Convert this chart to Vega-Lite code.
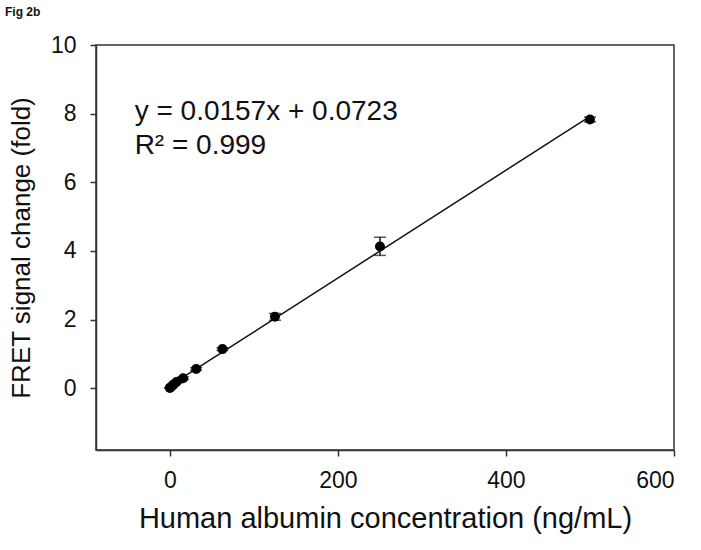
{
  "$schema": "https://vega.github.io/schema/vega-lite/v6.json",
  "autosize": "none",
  "width": 578,
  "height": 405,
  "padding": {"left": 96, "top": 45, "right": 27, "bottom": 100},
  "background": "white",
  "title": {"text": "Fig 2b", "anchor": "start", "frame": "group", "dx": -91, "dy": 14, "offset": 20, "baseline": "alphabetic", "fontSize": 12, "fontWeight": "bold", "font": "Liberation Sans", "color": "#111"},
  "config": {
    "view": {"stroke": "#333", "strokeWidth": 1.5},
    "font": "Liberation Sans"
  },
  "datasets": {
    "pts": [
      {"conc": 0, "fret": 0.01, "lo": 0.01, "hi": 0.01},
      {"conc": 1.95, "fret": 0.05, "lo": 0.03, "hi": 0.07},
      {"conc": 3.9, "fret": 0.1, "lo": 0.08, "hi": 0.12},
      {"conc": 7.8, "fret": 0.18, "lo": 0.15, "hi": 0.21},
      {"conc": 15.6, "fret": 0.29, "lo": 0.25, "hi": 0.33},
      {"conc": 31.25, "fret": 0.56, "lo": 0.52, "hi": 0.6},
      {"conc": 62.5, "fret": 1.14, "lo": 1.1, "hi": 1.18},
      {"conc": 125, "fret": 2.08, "lo": 1.98, "hi": 2.18},
      {"conc": 250, "fret": 4.13, "lo": 3.87, "hi": 4.4},
      {"conc": 500, "fret": 7.83, "lo": 7.76, "hi": 7.9}
    ],
    "fit": [
      {"conc": 0, "fret": 0.0723},
      {"conc": 500, "fret": 7.9223}
    ],
    "eq": [
      {"conc": -42, "fret": 8.05, "label": "y = 0.0157x + 0.0723"},
      {"conc": -42, "fret": 7.06, "label": "R² = 0.999"}
    ]
  },
  "layer": [
    {
      "data": {"name": "fit"},
      "mark": {"type": "line", "color": "#111", "strokeWidth": 1.5},
      "encoding": {
        "x": {"field": "conc", "type": "quantitative", "scale": {"domain": [-88, 600], "nice": false, "zero": false},
              "axis": {"values": [0, 200, 400, 600], "title": "Human albumin concentration (ng/mL)", "grid": false,
                       "domainColor": "#333", "domainWidth": 1.5, "tickColor": "#333", "tickWidth": 1.5, "tickSize": 6,
                       "labelFontSize": 23, "labelColor": "#111", "labelFont": "Liberation Sans", "labelPadding": 13,
                       "titleFontSize": 29, "titleFontWeight": "normal", "titleColor": "#111", "titleFont": "Liberation Sans", "titlePadding": 12}},
        "y": {"field": "fret", "type": "quantitative", "scale": {"domain": [-1.8, 10], "nice": false, "zero": false},
              "axis": {"values": [0, 2, 4, 6, 8, 10], "title": "FRET signal change (fold)", "grid": false,
                       "domainColor": "#333", "domainWidth": 1.5, "tickColor": "#333", "tickWidth": 1.5, "tickSize": 6,
                       "labelFontSize": 23, "labelColor": "#111", "labelFont": "Liberation Sans", "labelPadding": 14,
                       "titleFontSize": 26, "titleFontWeight": "normal", "titleColor": "#111", "titleFont": "Liberation Sans", "titlePadding": 16}}
      }
    },
    {
      "data": {"name": "pts"},
      "mark": {"type": "rule", "color": "#111", "strokeWidth": 1.5},
      "encoding": {
        "x": {"field": "conc", "type": "quantitative"},
        "y": {"field": "lo", "type": "quantitative"},
        "y2": {"field": "hi"}
      }
    },
    {
      "data": {"name": "pts"},
      "mark": {"type": "tick", "color": "#111", "thickness": 1.5, "size": 12, "orient": "horizontal"},
      "encoding": {
        "x": {"field": "conc", "type": "quantitative"},
        "y": {"field": "lo", "type": "quantitative"}
      }
    },
    {
      "data": {"name": "pts"},
      "mark": {"type": "tick", "color": "#111", "thickness": 1.5, "size": 12, "orient": "horizontal"},
      "encoding": {
        "x": {"field": "conc", "type": "quantitative"},
        "y": {"field": "hi", "type": "quantitative"}
      }
    },
    {
      "data": {"name": "pts"},
      "mark": {"type": "point", "filled": true, "color": "#000", "size": 100, "opacity": 1},
      "encoding": {
        "x": {"field": "conc", "type": "quantitative"},
        "y": {"field": "fret", "type": "quantitative"}
      }
    },
    {
      "data": {"name": "eq"},
      "mark": {"type": "text", "align": "left", "baseline": "middle", "fontSize": 28, "color": "#111", "font": "Liberation Sans"},
      "encoding": {
        "x": {"field": "conc", "type": "quantitative"},
        "y": {"field": "fret", "type": "quantitative"},
        "text": {"field": "label"}
      }
    }
  ]
}
